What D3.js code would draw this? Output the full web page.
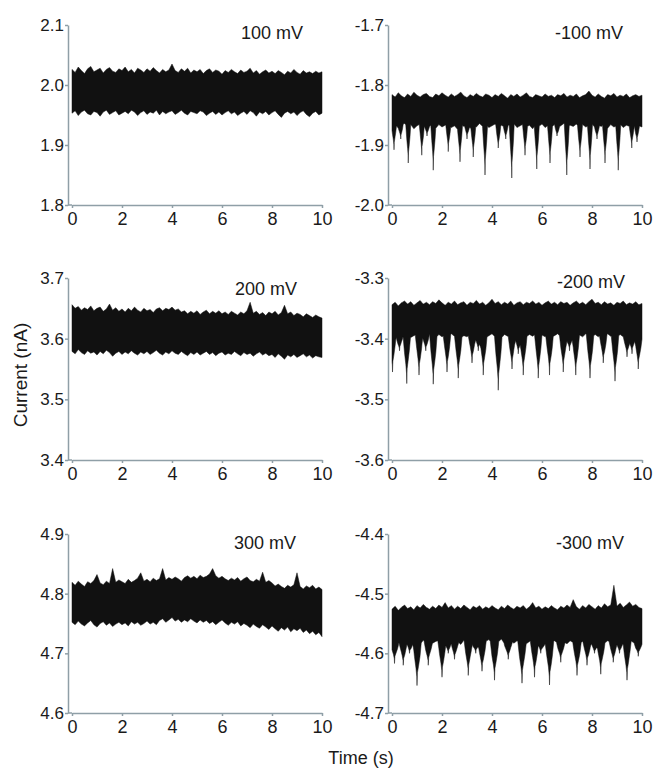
<!DOCTYPE html>
<html>
<head>
<meta charset="utf-8">
<script src="https://cdn.jsdelivr.net/npm/d3@7"></script>
<style>
  body { margin: 0; background: #fff; }
  svg text { font-family: "Liberation Sans", Arial, sans-serif; }
  .axis .domain, .axis line { stroke: #8f9fa7; stroke-width: 1.5; }
  .axis text { fill: #1a1a1a; }
</style>
</head>
<body>
<div id="chart-area"></div>
<script>
// sampled time grid (s) for the trace envelopes
const sampleTimes = [0,0.125,0.25,0.375,0.5,0.625,0.75,0.875,1,1.125,1.25,1.375,1.5,1.625,1.75,1.875,
  2,2.125,2.25,2.375,2.5,2.625,2.75,2.875,3,3.125,3.25,3.375,3.5,3.625,3.75,3.875,
  4,4.125,4.25,4.375,4.5,4.625,4.75,4.875,5,5.125,5.25,5.375,5.5,5.625,5.75,5.875,
  6,6.125,6.25,6.375,6.5,6.625,6.75,6.875,7,7.125,7.25,7.375,7.5,7.625,7.75,7.875,
  8,8.125,8.25,8.375,8.5,8.625,8.75,8.875,9,9.125,9.25,9.375,9.5,9.625,9.75,9.875,10];
const xTickValues = [0, 2, 4, 6, 8, 10];
const voltageLabels = ["100 mV", "-100 mV", "200 mV", "-200 mV", "300 mV", "-300 mV"];

// y ticks for each panel
const ticksP100 = [1.8, 1.9, 2.0, 2.1];
const ticksN100 = [-2.0, -1.9, -1.8, -1.7];
const ticksP200 = [3.4, 3.5, 3.6, 3.7];
const ticksN200 = [-3.6, -3.5, -3.4, -3.3];
const ticksP300 = [4.6, 4.7, 4.8, 4.9];
const ticksN300 = [-4.7, -4.6, -4.5, -4.4];
const labelsP100 = ["1.8", "1.9", "2.0", "2.1"];
const labelsN100 = ["-2.0", "-1.9", "-1.8", "-1.7"];
const labelsP200 = ["3.4", "3.5", "3.6", "3.7"];
const labelsN200 = ["-3.6", "-3.5", "-3.4", "-3.3"];
const labelsP300 = ["4.6", "4.7", "4.8", "4.9"];
const labelsN300 = ["-4.7", "-4.6", "-4.5", "-4.4"];

// noise band, top and bottom edge (nA)
const upperP100 = [2.026,2.021,2.030,2.024,2.019,2.027,2.031,2.022,2.025,2.028,2.020,2.026,2.029,2.023,2.021,2.027,
  2.024,2.030,2.022,2.026,2.020,2.028,2.025,2.021,2.027,2.023,2.029,2.024,2.020,2.026,2.022,2.025,
  2.035,2.024,2.021,2.027,2.023,2.028,2.020,2.025,2.022,2.026,2.019,2.024,2.027,2.021,2.025,2.023,
  2.018,2.024,2.021,2.026,2.022,2.019,2.025,2.021,2.023,2.028,2.020,2.024,2.018,2.022,2.025,2.020,
  2.023,2.019,2.024,2.021,2.017,2.023,2.020,2.026,2.021,2.018,2.024,2.020,2.022,2.019,2.023,2.020,2.022];
const lowerP100 = [1.953,1.957,1.949,1.955,1.958,1.952,1.950,1.956,1.954,1.948,1.955,1.958,1.951,1.954,1.957,1.950,
  1.953,1.956,1.952,1.958,1.955,1.949,1.954,1.957,1.951,1.955,1.953,1.958,1.950,1.956,1.952,1.955,
  1.957,1.951,1.954,1.958,1.953,1.950,1.956,1.954,1.952,1.957,1.955,1.949,1.953,1.956,1.951,1.955,
  1.950,1.954,1.957,1.952,1.955,1.949,1.953,1.956,1.951,1.957,1.954,1.948,1.955,1.952,1.956,1.950,
  1.954,1.957,1.951,1.946,1.953,1.956,1.952,1.955,1.949,1.954,1.957,1.951,1.947,1.953,1.956,1.950,1.953];

const upperN100 = [-1.816,-1.820,-1.813,-1.818,-1.821,-1.815,-1.819,-1.812,-1.817,-1.820,-1.816,-1.814,-1.819,-1.821,-1.815,-1.818,
  -1.813,-1.817,-1.820,-1.815,-1.819,-1.816,-1.812,-1.818,-1.821,-1.816,-1.819,-1.814,-1.818,-1.820,-1.815,-1.817,
  -1.821,-1.816,-1.819,-1.814,-1.818,-1.822,-1.816,-1.819,-1.815,-1.820,-1.817,-1.813,-1.819,-1.821,-1.816,-1.818,
  -1.820,-1.815,-1.819,-1.817,-1.821,-1.816,-1.818,-1.814,-1.820,-1.817,-1.819,-1.815,-1.821,-1.818,-1.816,-1.810,
  -1.817,-1.820,-1.815,-1.819,-1.822,-1.816,-1.818,-1.814,-1.820,-1.817,-1.819,-1.815,-1.821,-1.818,-1.816,-1.819,-1.817];
const lowerN100 = [-1.869,-1.865,-1.872,-1.867,-1.864,-1.870,-1.866,-1.873,-1.868,-1.865,-1.871,-1.867,-1.869,-1.864,-1.872,-1.866,
  -1.870,-1.867,-1.865,-1.871,-1.868,-1.874,-1.866,-1.869,-1.865,-1.872,-1.867,-1.870,-1.864,-1.869,-1.866,-1.871,
  -1.868,-1.865,-1.873,-1.867,-1.870,-1.866,-1.869,-1.864,-1.871,-1.868,-1.865,-1.870,-1.867,-1.873,-1.866,-1.869,
  -1.865,-1.871,-1.867,-1.870,-1.866,-1.872,-1.868,-1.864,-1.870,-1.867,-1.869,-1.865,-1.872,-1.866,-1.870,-1.868,
  -1.865,-1.871,-1.867,-1.869,-1.864,-1.872,-1.866,-1.870,-1.868,-1.865,-1.871,-1.867,-1.869,-1.866,-1.872,-1.868,-1.870];

const upperP200 = [3.656,3.650,3.653,3.647,3.651,3.648,3.654,3.646,3.650,3.652,3.645,3.649,3.657,3.647,3.651,3.645,
  3.649,3.644,3.650,3.646,3.652,3.647,3.644,3.650,3.646,3.648,3.643,3.649,3.651,3.646,3.650,3.648,
  3.652,3.647,3.649,3.644,3.646,3.641,3.645,3.642,3.646,3.640,3.644,3.647,3.641,3.645,3.642,3.646,
  3.641,3.644,3.640,3.645,3.642,3.639,3.644,3.641,3.646,3.660,3.642,3.645,3.640,3.643,3.638,3.644,
  3.641,3.645,3.639,3.643,3.655,3.641,3.644,3.638,3.642,3.640,3.636,3.641,3.638,3.635,3.639,3.636,3.634];
const lowerP200 = [3.579,3.575,3.582,3.577,3.574,3.580,3.576,3.578,3.573,3.579,3.575,3.581,3.577,3.571,3.576,3.579,
  3.574,3.578,3.575,3.580,3.576,3.573,3.578,3.575,3.579,3.574,3.577,3.581,3.576,3.573,3.578,3.575,
  3.580,3.576,3.574,3.579,3.575,3.572,3.577,3.574,3.578,3.573,3.576,3.579,3.574,3.577,3.572,3.576,
  3.578,3.573,3.576,3.574,3.579,3.575,3.572,3.577,3.574,3.576,3.571,3.575,3.578,3.573,3.576,3.572,
  3.574,3.569,3.575,3.571,3.566,3.573,3.570,3.574,3.569,3.572,3.575,3.570,3.573,3.568,3.572,3.570,3.569];

const upperN200 = [-3.344,-3.340,-3.346,-3.341,-3.338,-3.343,-3.339,-3.345,-3.341,-3.337,-3.343,-3.340,-3.344,-3.339,-3.342,-3.336,
  -3.341,-3.345,-3.340,-3.343,-3.338,-3.344,-3.341,-3.339,-3.345,-3.340,-3.342,-3.337,-3.343,-3.340,-3.345,-3.341,
  -3.335,-3.342,-3.339,-3.344,-3.340,-3.343,-3.338,-3.345,-3.341,-3.339,-3.344,-3.340,-3.342,-3.338,-3.343,-3.340,
  -3.345,-3.341,-3.338,-3.343,-3.340,-3.344,-3.339,-3.342,-3.340,-3.345,-3.341,-3.338,-3.343,-3.340,-3.344,-3.339,
  -3.335,-3.342,-3.340,-3.344,-3.339,-3.343,-3.341,-3.345,-3.340,-3.342,-3.338,-3.344,-3.341,-3.343,-3.339,-3.344,-3.342];
const lowerN200 = [-3.397,-3.393,-3.399,-3.394,-3.396,-3.392,-3.398,-3.395,-3.393,-3.399,-3.394,-3.397,-3.392,-3.396,-3.399,-3.393,
  -3.397,-3.394,-3.398,-3.392,-3.396,-3.393,-3.399,-3.395,-3.397,-3.392,-3.398,-3.394,-3.396,-3.393,-3.399,-3.395,
  -3.392,-3.397,-3.394,-3.399,-3.393,-3.396,-3.398,-3.392,-3.395,-3.399,-3.394,-3.397,-3.393,-3.396,-3.392,-3.398,
  -3.394,-3.397,-3.393,-3.399,-3.395,-3.392,-3.397,-3.394,-3.398,-3.393,-3.396,-3.399,-3.394,-3.397,-3.392,-3.396,
  -3.398,-3.393,-3.397,-3.394,-3.399,-3.392,-3.396,-3.394,-3.398,-3.393,-3.397,-3.395,-3.399,-3.394,-3.397,-3.399,-3.401];

const upperP300 = [4.819,4.814,4.821,4.816,4.812,4.820,4.817,4.822,4.832,4.818,4.815,4.821,4.817,4.842,4.819,4.823,
  4.820,4.817,4.824,4.819,4.822,4.826,4.835,4.821,4.824,4.820,4.826,4.822,4.825,4.842,4.823,4.827,
  4.824,4.828,4.825,4.821,4.827,4.830,4.826,4.829,4.825,4.831,4.827,4.829,4.833,4.842,4.830,4.826,
  4.829,4.825,4.822,4.826,4.823,4.827,4.821,4.825,4.828,4.822,4.820,4.824,4.821,4.836,4.819,4.822,
  4.818,4.813,4.816,4.812,4.809,4.814,4.811,4.815,4.835,4.812,4.808,4.813,4.810,4.814,4.808,4.811,4.807];
const lowerP300 = [4.752,4.748,4.754,4.749,4.746,4.751,4.755,4.748,4.744,4.750,4.753,4.747,4.751,4.745,4.749,4.752,
  4.748,4.751,4.746,4.753,4.749,4.752,4.747,4.750,4.754,4.749,4.752,4.748,4.755,4.758,4.752,4.756,
  4.760,4.754,4.757,4.752,4.756,4.753,4.758,4.754,4.751,4.756,4.752,4.755,4.750,4.753,4.748,4.752,
  4.756,4.751,4.747,4.752,4.749,4.753,4.746,4.750,4.747,4.743,4.749,4.745,4.742,4.748,4.744,4.740,
  4.746,4.741,4.737,4.743,4.739,4.744,4.736,4.741,4.738,4.742,4.735,4.739,4.733,4.737,4.731,4.735,4.728];

const upperN300 = [-4.526,-4.521,-4.528,-4.523,-4.519,-4.525,-4.522,-4.527,-4.520,-4.524,-4.518,-4.523,-4.526,-4.521,-4.525,-4.519,
  -4.523,-4.515,-4.524,-4.520,-4.526,-4.521,-4.525,-4.519,-4.523,-4.527,-4.521,-4.524,-4.520,-4.526,-4.522,-4.525,
  -4.520,-4.524,-4.527,-4.521,-4.525,-4.519,-4.523,-4.526,-4.521,-4.524,-4.520,-4.526,-4.522,-4.515,-4.524,-4.521,
  -4.526,-4.522,-4.525,-4.520,-4.524,-4.527,-4.521,-4.524,-4.519,-4.523,-4.510,-4.522,-4.526,-4.520,-4.524,-4.518,
  -4.522,-4.526,-4.520,-4.524,-4.517,-4.522,-4.519,-4.486,-4.521,-4.516,-4.523,-4.519,-4.514,-4.521,-4.518,-4.523,-4.525];
const lowerN300 = [-4.581,-4.577,-4.584,-4.579,-4.582,-4.576,-4.583,-4.579,-4.581,-4.585,-4.578,-4.582,-4.577,-4.583,-4.580,-4.578,
  -4.584,-4.579,-4.582,-4.577,-4.583,-4.580,-4.585,-4.578,-4.581,-4.577,-4.583,-4.579,-4.582,-4.586,-4.580,-4.577,
  -4.583,-4.579,-4.581,-4.576,-4.584,-4.580,-4.578,-4.583,-4.579,-4.582,-4.577,-4.584,-4.580,-4.578,-4.583,-4.579,
  -4.581,-4.585,-4.578,-4.582,-4.579,-4.583,-4.577,-4.581,-4.584,-4.579,-4.582,-4.578,-4.583,-4.580,-4.577,-4.582,
  -4.579,-4.584,-4.580,-4.577,-4.583,-4.579,-4.581,-4.585,-4.578,-4.582,-4.579,-4.583,-4.577,-4.581,-4.584,-4.580,-4.582];

// blockade events (time in s, deepest current in nA)
const eventTimesN100 = [0.08,0.35,0.65,1.19,1.4,1.65,2.25,2.72,3.0,3.25,3.72,4.25,4.55,4.79,5.32,5.79,6.32,6.6,6.99,7.52,7.92,8.2,8.52,9.05,9.59,9.8];
const eventDepthsN100 = [-1.908,-1.890,-1.930,-1.917,-1.885,-1.942,-1.911,-1.928,-1.890,-1.920,-1.950,-1.905,-1.890,-1.955,-1.917,-1.940,-1.930,-1.885,-1.950,-1.920,-1.940,-1.890,-1.930,-1.942,-1.905,-1.895];
const eventTimesN200 = [0.02,0.3,0.59,1.08,1.35,1.65,2.2,2.65,3.2,3.45,3.65,4.25,4.8,5.05,5.25,5.85,6.3,6.85,7.1,7.35,7.92,8.45,8.92,9.4,9.6,9.85];
const eventDepthsN200 = [-3.455,-3.420,-3.474,-3.460,-3.420,-3.475,-3.455,-3.465,-3.440,-3.420,-3.460,-3.485,-3.450,-3.425,-3.460,-3.465,-3.460,-3.455,-3.420,-3.460,-3.465,-3.440,-3.470,-3.430,-3.425,-3.450];
const eventTimesN300 = [0.1,0.45,0.7,1.0,1.45,2.0,2.25,2.5,3.05,3.35,3.6,4.1,4.65,5.2,5.7,5.95,6.3,6.75,7.4,7.8,8.1,8.35,8.85,9.1,9.4,9.85];
const eventDepthsN300 = [-4.617,-4.620,-4.600,-4.654,-4.620,-4.640,-4.600,-4.610,-4.637,-4.600,-4.630,-4.645,-4.610,-4.650,-4.640,-4.600,-4.653,-4.615,-4.637,-4.620,-4.600,-4.635,-4.615,-4.600,-4.645,-4.605];

// shape of one event, relative to its half width
const shapeOffsets = [-1, -0.6, -0.25, -0.05, 0, 0.1, 0.35, 0.7, 1];
const shapeFracs = [0, 0.35, 0.6, 0.8, 1, 0.7, 0.55, 0.3, 0];
const profile = d3.scaleLinear().domain(shapeOffsets).range(shapeFracs);

const width = 653, height = 769;
const colX = [72, 392];
const rowY = [[205, 25], [460, 278], [713, 534]];

const panels = [
  {label: voltageLabels[0], ticks: ticksP100, tickLabels: labelsP100, upper: upperP100, lower: lowerP100, ev: [], evD: [], w: 0, col: 0, row: 0, lx: 303, ly: 14},
  {label: voltageLabels[1], ticks: ticksN100, tickLabels: labelsN100, upper: upperN100, lower: lowerN100, ev: eventTimesN100, evD: eventDepthsN100, w: 0.1, col: 1, row: 0, lx: 623, ly: 14},
  {label: voltageLabels[2], ticks: ticksP200, tickLabels: labelsP200, upper: upperP200, lower: lowerP200, ev: [], evD: [], w: 0, col: 0, row: 1, lx: 297, ly: 17},
  {label: voltageLabels[3], ticks: ticksN200, tickLabels: labelsN200, upper: upperN200, lower: lowerN200, ev: eventTimesN200, evD: eventDepthsN200, w: 0.15, col: 1, row: 1, lx: 625, ly: 10},
  {label: voltageLabels[4], ticks: ticksP300, tickLabels: labelsP300, upper: upperP300, lower: lowerP300, ev: [], evD: [], w: 0, col: 0, row: 2, lx: 296, ly: 15},
  {label: voltageLabels[5], ticks: ticksN300, tickLabels: labelsN300, upper: upperN300, lower: lowerN300, ev: eventTimesN300, evD: eventDepthsN300, w: 0.17, col: 1, row: 2, lx: 624, ly: 15}
];

const svg = d3.select("#chart-area").append("svg")
  .attr("width", width)
  .attr("height", height);

panels.forEach(function (p) {
  const x0 = colX[p.col];
  const axisX = x0 - 4;
  const [yB, yT] = rowY[p.row];
  const x = d3.scaleLinear().domain([0, 10]).range([x0, x0 + 250]);
  const y = d3.scaleLinear().domain([p.ticks[0], p.ticks[3]]).range([yB, yT]);

  const upperAt = d3.scaleLinear().domain(sampleTimes).range(p.upper);
  const lowerAt = d3.scaleLinear().domain(sampleTimes).range(p.lower);

  // all time points: envelope grid plus event shape points
  let times = sampleTimes.slice();
  p.ev.forEach(function (t) {
    shapeOffsets.forEach(function (o) { times.push(t + o * p.w); });
  });
  times = Array.from(new Set(times.filter(t => t >= 0 && t <= 10).map(t => +t.toFixed(4)))).sort((a, b) => a - b);

  const pts = times.map(function (t) {
    const base = lowerAt(t);
    let low = base;
    p.ev.forEach(function (te, i) {
      const u = (t - te) / p.w;
      if (u >= -1 && u <= 1) {
        low = Math.min(low, base + profile(u) * (p.evD[i] - base));
      }
    });
    return {t: t, hi: upperAt(t), lo: low};
  });

  const area = d3.area()
    .x(d => x(d.t))
    .y0(d => y(d.lo))
    .y1(d => y(d.hi));

  svg.append("path")
    .datum(pts)
    .attr("d", area)
    .attr("fill", "#111")
    .attr("stroke", "#111")
    .attr("stroke-width", 0.5);

  // axes
  svg.append("g").attr("class", "axis")
    .attr("transform", "translate(" + axisX + ",0)")
    .call(d3.axisLeft(y).tickValues(p.ticks).tickSize(3).tickSizeOuter(0).tickPadding(1)
      .tickFormat((d, i) => p.tickLabels[i]))
    .selectAll("text").style("font-size", "17px");

  svg.append("g").attr("class", "axis")
    .attr("transform", "translate(0," + yB + ")")
    .call(d3.axisBottom(x).tickValues(xTickValues).tickSize(3).tickSizeOuter(0).tickPadding(4))
    .selectAll("text").style("font-size", "18px");

  svg.append("line")
    .attr("x1", axisX).attr("x2", x0)
    .attr("y1", yB).attr("y2", yB)
    .attr("stroke", "#8f9fa7").attr("stroke-width", 1.5);

  svg.append("text")
    .attr("x", p.lx)
    .attr("y", yT + p.ly)
    .attr("text-anchor", "end")
    .style("font-size", "18px")
    .attr("fill", "#1a1a1a")
    .text(p.label);
});

svg.append("text")
  .attr("transform", "translate(27,375) rotate(-90)")
  .attr("text-anchor", "middle")
  .style("font-size", "19px")
  .attr("fill", "#1a1a1a")
  .text("Current (nA)");

svg.append("text")
  .attr("x", 361)
  .attr("y", 764)
  .attr("text-anchor", "middle")
  .style("font-size", "18px")
  .attr("fill", "#1a1a1a")
  .text("Time (s)");
</script>
</body>
</html>
